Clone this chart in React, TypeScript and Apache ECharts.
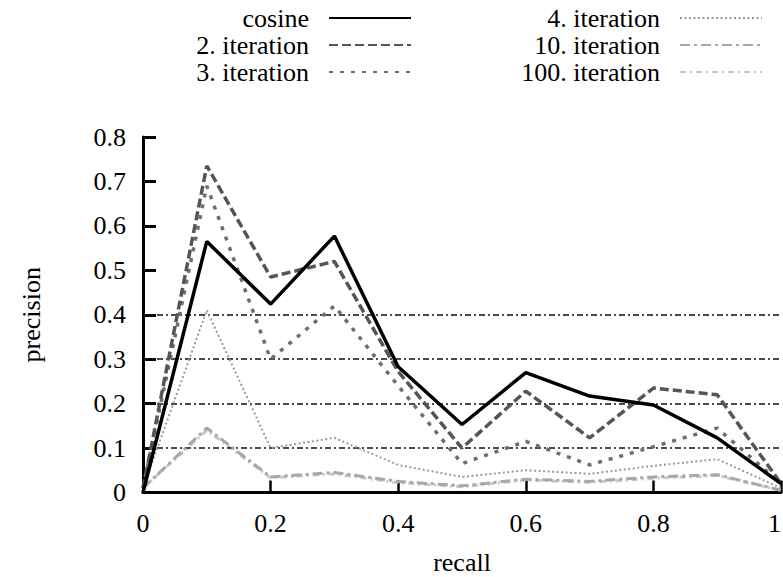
import React, { useEffect, useRef } from "react";
import * as echarts from "echarts";

const recall = [0, 0.1, 0.2, 0.3, 0.4, 0.5, 0.6, 0.7, 0.8, 0.9, 1.0];
const cosine = [0, 0.565, 0.424, 0.577, 0.283, 0.153, 0.27, 0.217, 0.197, 0.123, 0.02];
const iter2 = [0.01, 0.735, 0.485, 0.52, 0.272, 0.1, 0.228, 0.123, 0.235, 0.22, 0.02];
const iter3 = [0.01, 0.69, 0.3, 0.42, 0.24, 0.065, 0.115, 0.062, 0.103, 0.145, 0.02];
const iter4 = [0.01, 0.41, 0.1, 0.123, 0.062, 0.035, 0.05, 0.042, 0.06, 0.075, 0.01];
const iter10 = [0.01, 0.145, 0.035, 0.045, 0.025, 0.015, 0.03, 0.025, 0.035, 0.04, 0.005];
const iter100 = [0.01, 0.14, 0.033, 0.042, 0.022, 0.013, 0.028, 0.023, 0.032, 0.038, 0.005];
const gridValues = [0.1, 0.2, 0.3, 0.4];

const names = ["cosine", "2. iteration", "3. iteration", "4. iteration", "10. iteration", "100. iteration"];
const values = [cosine, iter2, iter3, iter4, iter10, iter100];
const styles = [
  { color: "#000000", width: 3.5, type: "solid" as any, z: 10 },
  { color: "#555555", width: 3.5, type: [9, 4], z: 8 },
  { color: "#6e6e6e", width: 3.5, type: [4, 7], z: 7 },
  { color: "#9a9a9a", width: 2, type: [2, 2.5], z: 6 },
  { color: "#a8a8a8", width: 3, type: [10, 4, 3, 4], z: 5 },
  { color: "#c8c8c8", width: 3, type: [6, 4, 2, 4], z: 4 },
];

const FONT = "'Liberation Serif', 'Times New Roman', serif";

export default function App() {
  const ref = useRef<HTMLDivElement>(null);
  useEffect(() => {
    if (!ref.current) return;
    const chart = echarts.init(ref.current, undefined, { renderer: "svg" });
    const series: any[] = names.map((n, i) => ({
      name: n,
      type: "line",
      data: recall.map((x, j) => [x, values[i][j]]),
      symbol: "none",
      z: styles[i].z,
      lineStyle: { color: styles[i].color, width: styles[i].width, type: styles[i].type },
      itemStyle: { color: styles[i].color },
    }));
    series.push({
      name: "grid",
      type: "line",
      data: [],
      symbol: "none",
      z: 1,
      markLine: {
        silent: true,
        symbol: "none",
        label: { show: false },
        lineStyle: { color: "#111", width: 1.5, type: [6, 3, 2, 3] },
        data: gridValues.map((v) => ({ yAxis: v })),
      },
    });
    const legendCommon = {
      orient: "vertical",
      align: "right",
      padding: 0,
      itemGap: 1,
      itemWidth: 82,
      itemHeight: 14,
      itemStyle: { opacity: 0 },
      textStyle: { fontFamily: FONT, fontSize: 26, color: "#000", lineHeight: 26, padding: [0, 15, 0, 0] },
    };
    chart.setOption({
      animation: false,
      backgroundColor: "#fff",
      textStyle: { fontFamily: FONT, color: "#000" },
      legend: [
        { ...legendCommon, data: names.slice(0, 3), right: 371, top: 5 },
        { ...legendCommon, data: names.slice(3), right: 20, top: 5 },
      ],
      grid: {
        left: 143,
        top: 137,
        width: 638,
        height: 355.5,
        containLabel: false,
        outerBoundsMode: "none",
      },
      xAxis: {
        type: "value",
        min: 0,
        max: 1,
        interval: 0.2,
        name: "recall",
        nameLocation: "middle",
        nameGap: 57,
        nameTextStyle: { fontFamily: FONT, fontSize: 26, color: "#000", lineHeight: 26 },
        axisLine: { lineStyle: { color: "#000", width: 3 } },
        axisTick: { inside: true, length: 12, lineStyle: { color: "#000", width: 2.5 } },
        axisLabel: { fontFamily: FONT, fontSize: 26, color: "#000", margin: 18, alignMaxLabel: "right" },
        splitLine: { show: false },
      },
      yAxis: {
        type: "value",
        min: 0,
        max: 0.8,
        interval: 0.1,
        name: "precision",
        nameLocation: "middle",
        nameGap: 99,
        nameTextStyle: { fontFamily: FONT, fontSize: 26, color: "#000" },
        axisLine: { lineStyle: { color: "#000", width: 3 } },
        axisTick: { inside: true, length: 13, lineStyle: { color: "#000", width: 3 } },
        axisLabel: {
          fontFamily: FONT,
          fontSize: 26,
          color: "#000",
          margin: 17,
          formatter: (v: number) => (v === 0 ? "0" : v.toFixed(1)),
        },
        splitLine: { show: false },
      },
      series,
    });
    return () => chart.dispose();
  }, []);
  return (
    <div
      ref={ref}
      style={{ position: "fixed", left: 0, top: 0, width: 783, height: 577, background: "#fff" }}
    />
  );
}
